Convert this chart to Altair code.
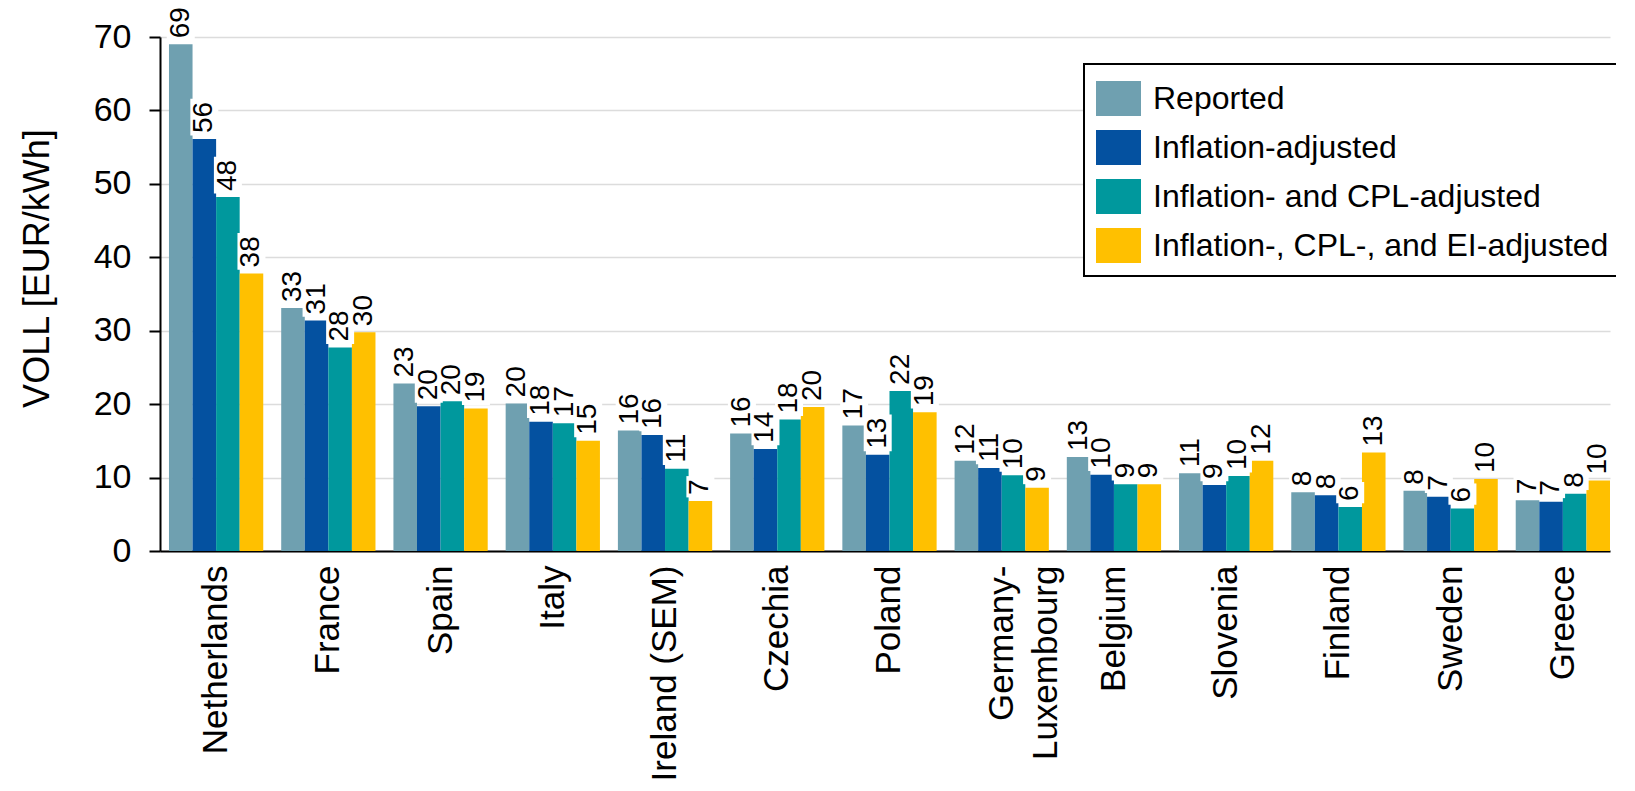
import altair as alt
import pandas as pd

countries = ["Netherlands", "France", "Spain", "Italy", "Ireland (SEM)", "Czechia", "Poland",
             "Germany-Luxembourg", "Belgium", "Slovenia", "Finland", "Sweden", "Greece"]
series = ["Reported", "Inflation-adjusted", "Inflation- and CPL-adjusted",
          "Inflation-, CPL-, and EI-adjusted"]
colors = ["#6FA0B0", "#0451A0", "#00989D", "#FFC000"]

reported = [69.0, 33.1, 22.8, 20.1, 16.4, 16.0, 17.1, 12.3, 12.8, 10.6, 8.0, 8.2, 6.9]
inflation = [56.1, 31.4, 19.7, 17.6, 15.8, 13.9, 13.1, 11.3, 10.4, 9.0, 7.6, 7.4, 6.7]
cpl = [48.2, 27.7, 20.4, 17.4, 11.2, 17.9, 21.8, 10.3, 9.1, 10.2, 6.0, 5.8, 7.8]
ei = [37.8, 29.8, 19.4, 15.0, 6.8, 19.6, 18.9, 8.6, 9.1, 12.3, 13.4, 9.8, 9.6]

reported_lbl = [69, 33, 23, 20, 16, 16, 17, 12, 13, 11, 8, 8, 7]
inflation_lbl = [56, 31, 20, 18, 16, 14, 13, 11, 10, 9, 8, 7, 7]
cpl_lbl = [48, 28, 20, 17, 11, 18, 22, 10, 9, 10, 6, 6, 8]
ei_lbl = [38, 30, 19, 15, 7, 20, 19, 9, 9, 12, 13, 10, 10]

rows = []
for s, vals, lbls in zip(series, [reported, inflation, cpl, ei],
                         [reported_lbl, inflation_lbl, cpl_lbl, ei_lbl]):
    for c, v, l in zip(countries, vals, lbls):
        rows.append({"country": c, "series": s, "value": v, "label": l})
df = pd.DataFrame(rows)

FONT = "Liberation Sans"

x_enc = alt.X("country:N", sort=countries, title=None,
              scale=alt.Scale(paddingInner=0.16, paddingOuter=0.04, align=1),
              axis=alt.Axis(labelAngle=270, labelFontSize=35, labelColor="black",
                            ticks=False, domainColor="black", domainWidth=2,
                            labelPadding=14, labelLineHeight=44, labelLimit=500,
                            labelExpr="datum.value == 'Germany-Luxembourg' ? ['Germany-', 'Luxembourg'] : datum.label"))
xo_enc = alt.XOffset("series:N", sort=series, scale=alt.Scale(paddingInner=0, paddingOuter=0))

y_scale = alt.Scale(domain=[0, 70], nice=False)

bars = alt.Chart(df).mark_bar().encode(
    x=x_enc,
    xOffset=xo_enc,
    y=alt.Y("value:Q", scale=y_scale, title="VOLL [EUR/kWh]",
            axis=alt.Axis(values=[0, 10, 20, 30, 40, 50, 60, 70], labelFontSize=34,
                          labelColor="black", tickSize=11, tickColor="black", tickWidth=2,
                          domainColor="black", domainWidth=2, gridColor="#dcdcdc",
                          gridWidth=1.5, labelPadding=18, titleFontSize=36,
                          titleFontWeight="normal", titleColor="black",
                          titleAngle=270, titleBaseline="middle", titleAlign="center",
                          titleX=-123, titleY=231)),
    color=alt.Color("series:N", sort=series,
                    scale=alt.Scale(domain=series, range=colors),
                    legend=alt.Legend(orient="none", legendX=924, legendY=27, title=None,
                                      symbolType="M-1,-0.78L1,-0.78L1,0.78L-1,0.78Z",
                                      symbolSize=2025, symbolStrokeWidth=0,
                                      labelFontSize=32, labelColor="black", labelOffset=12,
                                      rowPadding=8, padding=12, strokeColor="black",
                                      fillColor="white", labelLimit=600)),
)

boxes = alt.Chart(df).transform_calculate(
    lo="datum.value + 0.5",
    hi="datum.value + (datum.label >= 10 ? 5.5 : 3.4)",
).mark_bar(color="white", width=28).encode(
    x=x_enc,
    xOffset=xo_enc,
    y=alt.Y("lo:Q", scale=y_scale),
    y2="hi:Q",
)

labels = alt.Chart(df).mark_text(angle=270, align="left", baseline="middle", dx=6,
                                 fontSize=28, color="black").encode(
    x=x_enc,
    xOffset=xo_enc,
    y=alt.Y("value:Q", scale=y_scale),
    text=alt.Text("label:Q"),
)

chart = alt.layer(bars, boxes, labels).properties(
    width=1450, height=514,
    autosize=alt.AutoSizeParams(type="none"),
    padding={"left": 152, "top": 29, "right": 6, "bottom": 232},
).configure(font=FONT).configure_view(stroke=None).configure_legend(strokeWidth=2)

chart.save("out.html", embed_options={"renderer": "svg", "actions": False})
